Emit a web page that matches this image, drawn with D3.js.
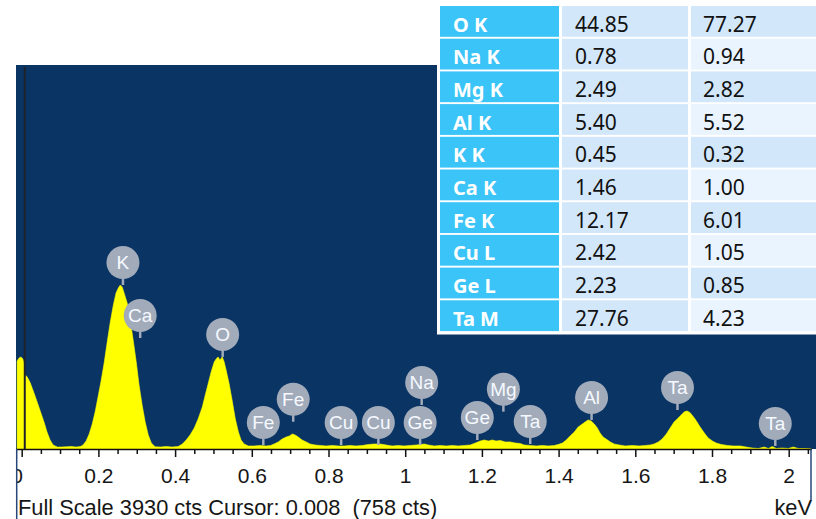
<!DOCTYPE html>
<html>
<head>
<meta charset="utf-8">
<script src="https://cdn.jsdelivr.net/npm/d3@7"></script>
<style>
  html, body { margin: 0; padding: 0; background: #ffffff; }
  svg { display: block; }
  .tbl-el { font-family: "Noto Sans", "Open Sans", sans-serif; font-weight: 700; fill: #ffffff; font-size: 20px; }
  .tbl-num { font-family: "Noto Sans", "Open Sans", sans-serif; font-weight: 400; fill: #111111; font-size: 21px; }
  .axis-txt { font-family: "Liberation Sans", Arial, sans-serif; font-size: 21px; fill: #161616; }
  .status-txt { font-family: "Liberation Sans", Arial, sans-serif; font-size: 21.8px; fill: #161616; }
  .peak-txt { font-family: "Liberation Sans", Arial, sans-serif; font-size: 19px; fill: #f6f9ff; }
</style>
</head>
<body>
<svg id="chart" width="816" height="519"></svg>
<script>
// ---- spectrum (energy in keV, intensity in counts) ----
const energy = [
  -0.012, -0.007, -0.002, 0.003, 0.006, 0.008, 0.014, 0.022, 0.033, 0.043, 0.051, 0.059, 0.066, 0.074, 0.082, 0.093,
  0.103, 0.116, 0.129, 0.142, 0.153,
  0.160, 0.168, 0.176, 0.184, 0.192, 0.199, 0.207, 0.215, 0.223, 0.231, 0.239, 0.246, 0.252, 0.257, 0.262, 0.267,
  0.275, 0.283, 0.291, 0.299, 0.306, 0.314, 0.322, 0.330, 0.338, 0.348,
  0.361, 0.377, 0.392, 0.408,
  0.419, 0.429, 0.439, 0.450, 0.460, 0.471, 0.478, 0.486, 0.494, 0.502, 0.507, 0.512, 0.517, 0.523, 0.528, 0.533,
  0.541, 0.549, 0.557, 0.565, 0.572, 0.580, 0.591,
  0.606, 0.622, 0.638, 0.649,
  0.658, 0.669, 0.679, 0.690, 0.698, 0.706, 0.713, 0.721, 0.731, 0.742, 0.752, 0.765, 0.778,
  0.794, 0.810, 0.825, 0.841, 0.856, 0.872, 0.888, 0.904, 0.919, 0.935, 0.950, 0.966, 0.982, 0.997,
  1.013, 1.029, 1.039, 1.050, 1.060, 1.076, 1.091, 1.107, 1.123, 1.138, 1.154, 1.170,
  1.183, 1.196, 1.206, 1.217, 1.227, 1.237, 1.248, 1.261, 1.274, 1.287, 1.300, 1.310, 1.326, 1.342, 1.357, 1.373, 1.389,
  1.399, 1.410, 1.420, 1.430, 1.441, 1.451, 1.462, 1.469, 1.477, 1.485, 1.493, 1.501, 1.508, 1.516, 1.524, 1.535, 1.545, 1.558,
  1.574, 1.592, 1.610, 1.626, 1.639,
  1.649, 1.660, 1.670, 1.681, 1.691, 1.701, 1.712, 1.722, 1.728, 1.735, 1.743, 1.754, 1.761, 1.769, 1.780, 1.790, 1.801, 1.811, 1.824,
  1.840, 1.855, 1.874, 1.889,
  1.905, 1.921, 1.936, 1.947, 1.957, 1.968, 1.983, 1.999, 2.012, 2.025, 2.043, 2.059
];
const counts = [
  900, 931, 942, 921, 880, 758, 740, 680, 563, 450, 358, 266, 174, 92, 41, 20,
  20, 22, 25, 20, 25,
  41, 82, 154, 256, 389, 532, 696, 880, 1095, 1300, 1474, 1597, 1648, 1678, 1658, 1597,
  1494, 1320, 1105, 880, 655, 450, 276, 143, 61, 22,
  20, 25, 20, 25,
  51, 92, 143, 215, 307, 430, 542, 665, 788, 890, 921, 942, 911, 942, 890, 808,
  665, 491, 307, 174, 92, 51, 31,
  31, 36, 31, 36,
  51, 72, 102, 123, 133, 154, 143, 123, 92, 72, 51, 41, 36,
  31, 36, 31, 31, 36, 31, 36, 46, 51, 51, 41, 31, 36, 31,
  36, 41, 46, 51, 41, 31, 36, 31, 36, 31, 36, 41,
  61, 82, 92, 82, 92, 82, 87, 72, 72, 61, 56, 41, 36, 31, 36, 31, 36,
  46, 61, 92, 133, 174, 225, 256, 276, 297, 287, 256, 215, 164, 123, 102, 72, 51, 41,
  31, 36, 31, 36, 41,
  51, 72, 102, 154, 215, 276, 317, 358, 380, 389, 372, 317, 276, 225, 164, 113, 82, 61, 46,
  36, 31, 31, 20,
  10, 5, 20, 5, 25, 5, 10, 5, 20, 5, 5, 0
];
const fullScale = 3930;
const cursorEnergy = 0.008;
const cursorCounts = 758;

// ---- axis ticks ----
const majorTicks = [0, 0.2, 0.4, 0.6, 0.8, 1, 1.2, 1.4, 1.6, 1.8, 2];
const minorTicks = [0.05, 0.1, 0.15, 0.25, 0.3, 0.35, 0.45, 0.5, 0.55, 0.65, 0.7, 0.75, 0.85, 0.9, 0.95,
  1.05, 1.1, 1.15, 1.25, 1.3, 1.35, 1.45, 1.5, 1.55, 1.65, 1.7, 1.75, 1.85, 1.9, 1.95, 2.05];

// ---- element line markers (energy keV, marker foot in counts) ----
const peakNames  = ["K", "Ca", "O", "Fe", "Fe", "Cu", "Cu", "Ge", "Na", "Ge", "Mg", "Ta", "Al", "Ta", "Ta"];
const peakEnergy = [0.264, 0.309, 0.524, 0.630, 0.708, 0.833, 0.930, 1.039, 1.043, 1.188, 1.256, 1.326, 1.486, 1.710, 1.965];
const peakFoot   = [1678, 1136, 942, 41, 279, 41, 41, 41, 450, 92, 382, 51, 297, 399, 31];

// ---- quantification table ----
const elements  = ["O K", "Na K", "Mg K", "Al K", "K K", "Ca K", "Fe K", "Cu L", "Ge L", "Ta M"];
const weightPct = [44.85, 0.78, 2.49, 5.40, 0.45, 1.46, 12.17, 2.42, 2.23, 27.76];
const atomicPct = [77.27, 0.94, 2.82, 5.52, 0.32, 1.00, 6.01, 1.05, 0.85, 4.23];

// ---------------------------------------------------------------
const svg = d3.select("#chart");
const W = 816, H = 519;
const plot = { left: 16, right: 816, top: 65, bottom: 449 };

const x = d3.scaleLinear().domain([0, 2]).range([21.7, 788.7]);
const y = d3.scaleLinear().domain([0, fullScale]).range([plot.bottom, plot.top]);

svg.append("rect").attr("width", W).attr("height", H).attr("fill", "#ffffff");

// plot background
svg.append("rect")
  .attr("x", plot.left).attr("y", plot.top)
  .attr("width", plot.right - plot.left).attr("height", plot.bottom - plot.top)
  .attr("fill", "#0a3464");

svg.append("clipPath").attr("id", "plotClip")
  .append("rect")
  .attr("x", plot.left).attr("y", plot.top)
  .attr("width", plot.right - plot.left).attr("height", plot.bottom - plot.top);

const spec = energy.map((e, i) => ({ e, c: counts[i] }));

const area = d3.area()
  .x(d => x(d.e))
  .y0(y(0))
  .y1(d => y(d.c))
  .curve(d3.curveLinear);

svg.append("path")
  .datum(spec)
  .attr("clip-path", "url(#plotClip)")
  .attr("d", area)
  .attr("fill", "#ffff00")
  .attr("stroke", "#ffff00")
  .attr("stroke-width", 0.6);

// cursor
svg.append("line")
  .attr("x1", x(cursorEnergy)).attr("x2", x(cursorEnergy))
  .attr("y1", plot.top + 2).attr("y2", plot.bottom)
  .attr("stroke", "#1d222b").attr("stroke-width", 2);

// element markers
const mk = svg.append("g").attr("clip-path", "url(#plotClip)");
const markerR = 16.5, stemLen = 6;
peakNames.forEach((name, i) => {
  const cx = x(peakEnergy[i]);
  const foot = y(peakFoot[i]);
  const cy = foot - stemLen - markerR;
  const g = mk.append("g");
  g.append("line")
    .attr("x1", cx).attr("x2", cx)
    .attr("y1", cy + markerR - 1).attr("y2", foot)
    .attr("stroke", "#a1abba").attr("stroke-width", 2.5);
  g.append("circle")
    .attr("cx", cx).attr("cy", cy).attr("r", markerR)
    .attr("fill", "#a1abba");
  g.append("text")
    .attr("class", "peak-txt")
    .attr("x", cx).attr("y", cy)
    .attr("dy", "0.36em")
    .attr("text-anchor", "middle")
    .text(name);
});

// axis
svg.append("clipPath").attr("id", "axisClip")
  .append("rect").attr("x", 17).attr("y", plot.bottom - 1).attr("width", 795).attr("height", 70);

const axisG = svg.append("g").attr("clip-path", "url(#axisClip)");

const minorAxis = d3.axisBottom(x).tickValues(minorTicks).tickSize(5).tickFormat("").tickSizeOuter(0);
const majorAxis = d3.axisBottom(x).tickValues(majorTicks).tickSize(8).tickPadding(11)
  .tickFormat(d3.format("~g")).tickSizeOuter(0);

const gMinor = axisG.append("g").attr("transform", `translate(0,${plot.bottom})`).call(minorAxis);
gMinor.select(".domain").remove();
gMinor.selectAll(".tick line").attr("stroke", "#111").attr("stroke-width", 1.5);

const gMajor = axisG.append("g").attr("transform", `translate(0,${plot.bottom})`).call(majorAxis);
gMajor.select(".domain").remove();
gMajor.selectAll(".tick line").attr("stroke", "#111").attr("stroke-width", 1.5);
gMajor.selectAll(".tick text").attr("class", "axis-txt").attr("font-family", null).attr("font-size", null).attr("fill", null);
gMajor.selectAll(".tick text").filter(d => d === 0).attr("dx", -5);

svg.append("line")
  .attr("x1", plot.left).attr("x2", 812)
  .attr("y1", plot.bottom + 0.5).attr("y2", plot.bottom + 0.5)
  .attr("stroke", "#111").attr("stroke-width", 1.5);

// frame edges under the axis
svg.append("line").attr("x1", 16.7).attr("x2", 16.7).attr("y1", plot.bottom).attr("y2", H)
  .attr("stroke", "#27477a").attr("stroke-width", 1.5);
svg.append("line").attr("x1", 811).attr("x2", 811).attr("y1", plot.bottom).attr("y2", 500)
  .attr("stroke", "#27477a").attr("stroke-width", 1.5);

// status line
svg.append("text").attr("class", "status-txt")
  .attr("x", 18).attr("y", 515)
  .text(`Full Scale ${fullScale} cts Cursor: ${d3.format(".3f")(cursorEnergy)}\u00a0\u00a0(${cursorCounts} cts)`);
svg.append("text").attr("class", "status-txt")
  .attr("x", 812).attr("y", 515).attr("text-anchor", "end")
  .text("keV");

// quantification table
const tbl = { x: 437, y: 3, rowTop: 6, rowPitch: 32.7, rowH: 30.8 };
const cols = [
  { x: 440, w: 119, tx: 453 },
  { x: 562, w: 126, tx: 575 },
  { x: 691, w: 130, tx: 703 }
];
const tg = svg.append("g");
tg.append("rect")
  .attr("x", tbl.x).attr("y", tbl.y)
  .attr("width", W - tbl.x).attr("height", tbl.rowTop + elements.length * tbl.rowPitch - tbl.y + 1.5)
  .attr("fill", "#ffffff");

const fmt = d3.format(".2f");
elements.forEach((el, i) => {
  const ry = tbl.rowTop + i * tbl.rowPitch;
  const base = ry + 25.5;
  tg.append("rect").attr("x", cols[0].x).attr("y", ry).attr("width", cols[0].w).attr("height", tbl.rowH)
    .attr("fill", "#3ac4f7");
  tg.append("rect").attr("x", cols[1].x).attr("y", ry).attr("width", cols[1].w).attr("height", tbl.rowH)
    .attr("fill", "#d3e7fa");
  tg.append("rect").attr("x", cols[2].x).attr("y", ry).attr("width", cols[2].w).attr("height", tbl.rowH)
    .attr("fill", i % 2 === 0 ? "#d3e7fa" : "#e9f4fe");
  tg.append("text").attr("class", "tbl-el").attr("x", cols[0].tx).attr("y", base).text(el);
  tg.append("text").attr("class", "tbl-num").attr("x", cols[1].tx).attr("y", base).text(fmt(weightPct[i]));
  tg.append("text").attr("class", "tbl-num").attr("x", cols[2].tx).attr("y", base).text(fmt(atomicPct[i]));
});
</script>
</body>
</html>
